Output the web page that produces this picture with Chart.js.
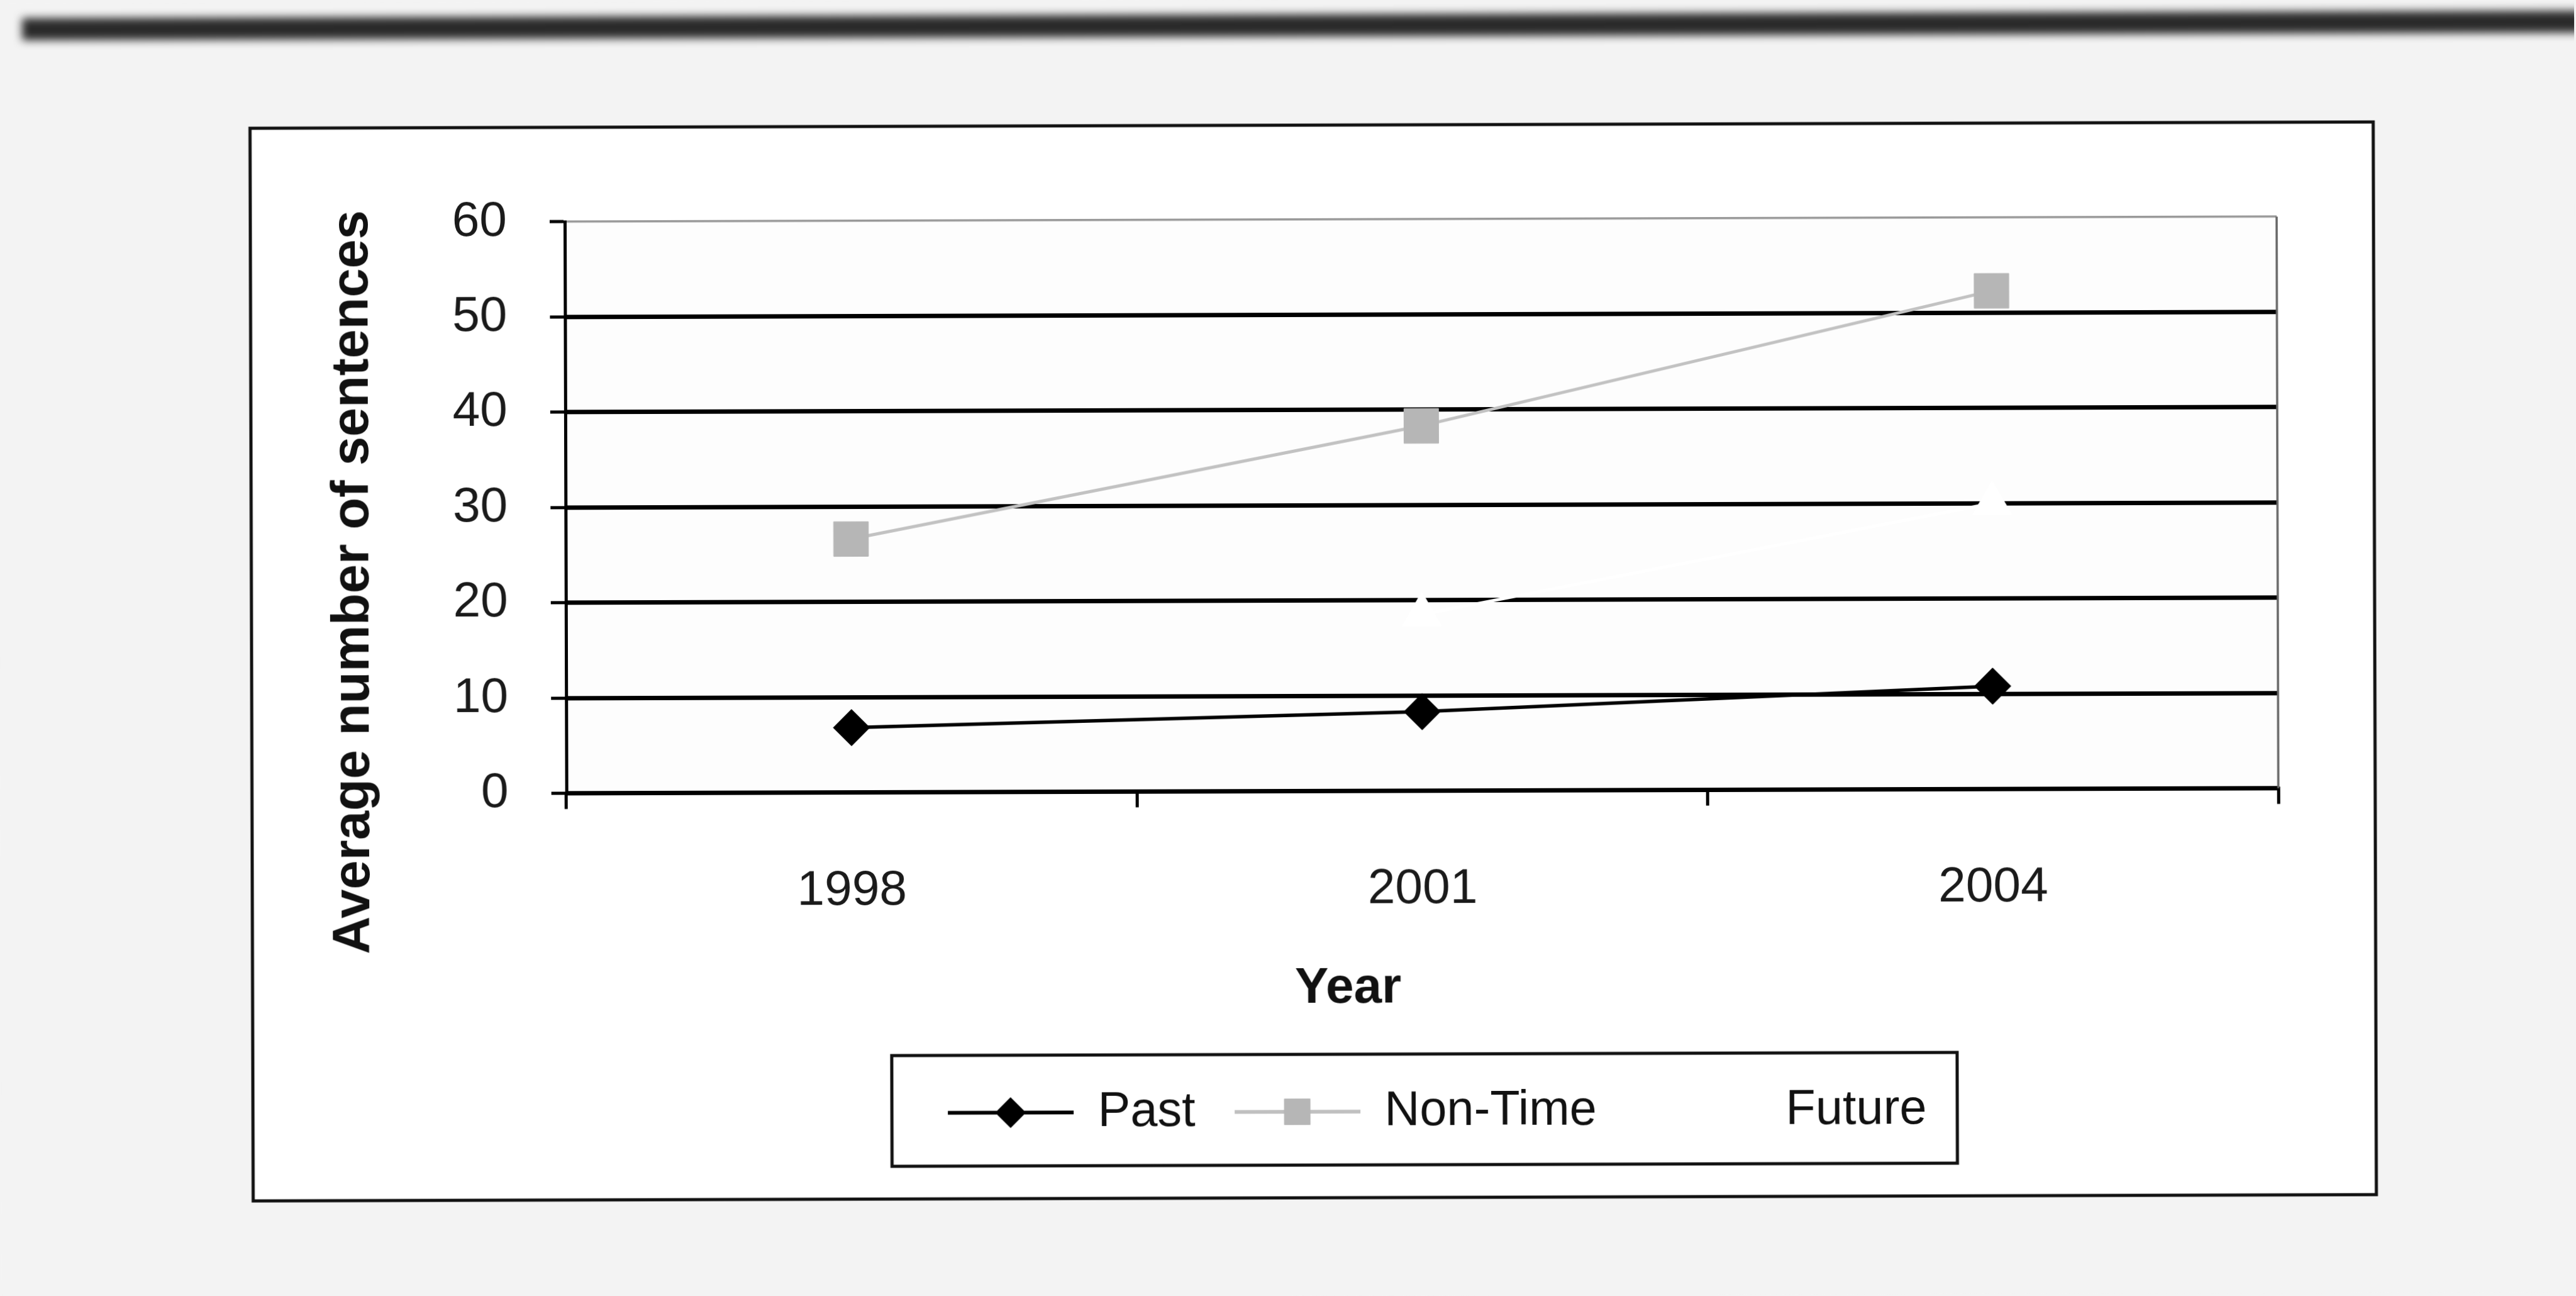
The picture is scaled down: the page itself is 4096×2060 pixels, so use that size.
<!DOCTYPE html>
<html>
<head>
<meta charset="utf-8">
<script src="https://cdn.jsdelivr.net/npm/chart.js@4/dist/chart.umd.min.js"></script>
<style>
  html, body { margin: 0; padding: 0; background: #f3f3f3; overflow: hidden; }
  #wrap { width: 4096px; height: 2060px; transform: rotate(-0.17deg); transform-origin: 50% 50%; }
  canvas { display: block; }
</style>
</head>
<body>
<div id="wrap"><canvas id="chart" width="4096" height="2060"></canvas></div>
<script>
// ---- data ----
const years = ['1998', '2001', '2004'];
const pastValues = [6.8, 8.3, 10.8];
const nonTimeValues = [26.6, 38.3, 52.3];
const futureValues = [null, 18.5, 30];
const yTickValues = [0, 10, 20, 30, 40, 50, 60];
const seriesNames = ['Past', 'Non-Time', 'Future'];
const yAxisTitle = 'Average number of sentences';
const xAxisTitle = 'Year';

const FONT = '"Liberation Sans", Arial, Helvetica, sans-serif';

// small line + marker swatches used as legend symbols
function legendSymbol(lineColor, lineWidth, pointStyle, radius, fill) {
  const c = document.createElement('canvas');
  c.width = 200; c.height = 64;
  const g = c.getContext('2d');
  g.strokeStyle = lineColor;
  g.lineWidth = lineWidth;
  g.beginPath(); g.moveTo(0, 32); g.lineTo(200, 32); g.stroke();
  g.fillStyle = fill;
  g.strokeStyle = fill;
  g.lineWidth = 1;
  Chart.helpers.drawPoint(g, { pointStyle, radius, borderWidth: 1, rotation: 0 }, 100, 32);
  return c;
}

const legendSymbols = [
  legendSymbol('#000000', 6, 'rectRot', 24, '#000000'),
  legendSymbol('#c0c0c0', 6, 'rect', 29, '#b6b6b6'),
  legendSymbol('#ffffff', 5, 'triangle', 24, '#ffffff')
];

const pagePlugin = {
  id: 'pageDecor',
  afterLayout(chart) {
    // centre the legend row under the plot like the original layout
    const lg = chart.legend;
    const dx = 2283 - (lg.left + lg.right) / 2;
    lg.left += dx; lg.right += dx;
  },
  beforeDraw(chart) {
    const { ctx, chartArea: a } = chart;
    ctx.save();
    ctx.fillStyle = '#f3f3f3';
    ctx.fillRect(0, 0, chart.width, chart.height);
    // dark band along the top edge of the page
    ctx.filter = 'blur(7px)';
    ctx.fillStyle = '#2a2a2a';
    ctx.fillRect(38, 23, 4200, 35);
    ctx.filter = 'none';
    // chart frame
    ctx.fillStyle = '#ffffff';
    ctx.fillRect(400, 199, 3376, 1705);
    ctx.lineWidth = 5;
    ctx.strokeStyle = '#111';
    ctx.strokeRect(400, 199, 3376, 1705);
    // plot area
    ctx.fillStyle = '#fdfdfd';
    ctx.fillRect(a.left, a.top, a.width, a.height);
    // legend frame
    ctx.lineWidth = 5;
    ctx.strokeRect(1416, 1676, 1694, 176);
    ctx.restore();
  },
  beforeDatasetsDraw(chart) {
    const { ctx, chartArea: a } = chart;
    ctx.save();
    ctx.strokeStyle = '#666';
    ctx.lineWidth = 3.5;
    ctx.beginPath();
    ctx.moveTo(a.right, a.top);
    ctx.lineTo(a.right, a.bottom);
    ctx.stroke();
    ctx.restore();
  },
  afterDraw(chart) {
    const { ctx } = chart;
    ctx.save();
    ctx.fillStyle = '#111';
    ctx.font = 'bold 83px ' + FONT;
    ctx.textAlign = 'center';
    ctx.textBaseline = 'alphabetic';
    ctx.translate(586, 921);
    ctx.rotate(-Math.PI / 2);
    ctx.fillText(yAxisTitle, 0, 0);
    ctx.restore();

    ctx.save();
    ctx.fillStyle = '#111';
    ctx.font = 'bold 80px ' + FONT;
    ctx.textAlign = 'center';
    ctx.textBaseline = 'alphabetic';
    ctx.fillText(xAxisTitle, 2142, 1594);
    ctx.restore();
  }
};

new Chart(document.getElementById('chart'), {
  type: 'line',
  data: {
    labels: years,
    datasets: [
      {
        label: seriesNames[0],
        data: pastValues,
        borderColor: '#000',
        borderWidth: 5.5,
        pointStyle: 'rectRot',
        pointRadius: 29,
        pointBackgroundColor: '#000',
        pointBorderColor: '#000',
        pointBorderWidth: 1,
        tension: 0
      },
      {
        label: seriesNames[1],
        data: nonTimeValues,
        borderColor: '#c2c2c2',
        borderWidth: 5,
        pointStyle: 'rect',
        pointRadius: 39,
        pointBackgroundColor: '#b6b6b6',
        pointBorderColor: '#b6b6b6',
        pointBorderWidth: 1,
        tension: 0
      },
      {
        label: seriesNames[2],
        data: futureValues,
        borderColor: '#fff',
        borderWidth: 5,
        pointStyle: 'triangle',
        pointRadius: 36,
        pointBackgroundColor: '#fff',
        pointBorderColor: '#fff',
        pointBorderWidth: 1,
        tension: 0
      }
    ]
  },
  options: {
    responsive: false,
    animation: false,
    devicePixelRatio: 1,
    events: [],
    layout: { padding: { left: 300, right: 474, top: 349, bottom: 244 } },
    scales: {
      x: {
        type: 'category',
        offset: true,
        grid: {
          offset: true,
          drawOnChartArea: false,
          drawTicks: true,
          tickLength: 25,
          color: '#000',
          lineWidth: 5
        },
        border: { display: true, color: '#000', width: 6 },
        ticks: {
          font: { family: FONT, size: 78.5 },
          color: '#1a1a1a',
          padding: 85,
          maxRotation: 0
        },
        afterFit(scale) { scale.height = 409; }
      },
      y: {
        min: 0,
        max: 60,
        afterBuildTicks(scale) { scale.ticks = yTickValues.map(v => ({ value: v })); },
        grid: {
          color: (c) => (c.tick && c.tick.value === 60 ? '#999' : '#000'),
          lineWidth: (c) => (c.tick && c.tick.value === 60 ? 3.5 : 7),
          tickLength: 24,
          tickColor: '#000',
          tickWidth: 5
        },
        border: { display: true, color: '#000', width: 5 },
        ticks: {
          font: { family: FONT, size: 78.5 },
          color: '#1a1a1a',
          padding: 68
        },
        afterFit(scale) { scale.width = 600; }
      }
    },
    plugins: {
      tooltip: { enabled: false },
      legend: {
        position: 'bottom',
        fullSize: false,
        labels: {
          usePointStyle: true,
          pointStyleWidth: 200,
          padding: 62,
          color: '#111',
          font: { family: FONT, size: 77.5 },
          generateLabels(chart) {
            return chart.data.datasets.map((ds, i) => ({
              text: ds.label,
              pointStyle: legendSymbols[i],
              fillStyle: ds.pointBackgroundColor,
              strokeStyle: ds.borderColor,
              lineWidth: 0,
              fontColor: '#111',
              hidden: false,
              datasetIndex: i
            }));
          }
        }
      }
    }
  },
  plugins: [pagePlugin]
});
</script>
</body>
</html>
